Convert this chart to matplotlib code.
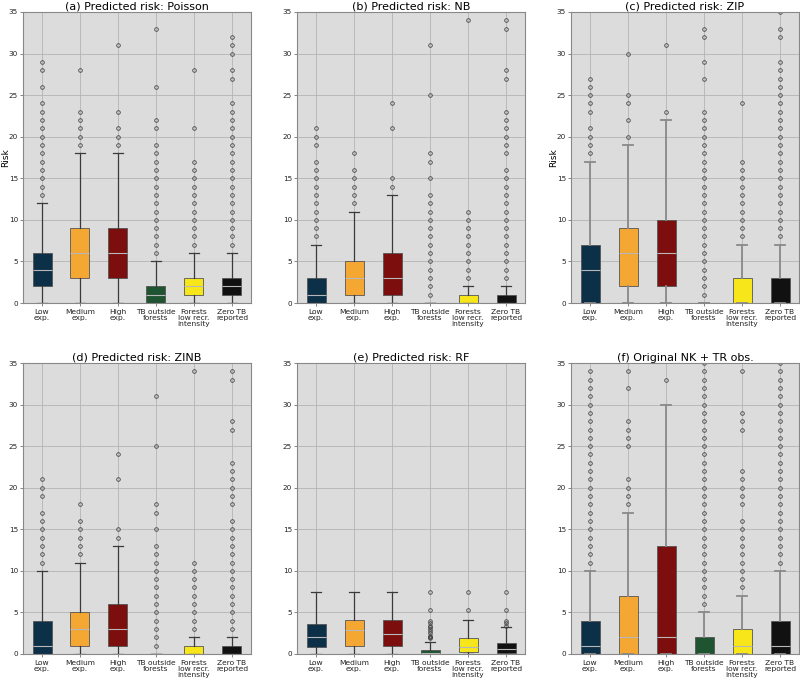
import matplotlib
matplotlib.use("Agg")
import matplotlib.pyplot as plt
import numpy as np

plt.rcParams['font.family'] = 'DejaVu Sans'

# categories
labels = ["Low\nexp.", "Medium\nexp.", "High\nexp.", "TB outside\nforests",
          "Forests\nlow recr.\nintensity", "Zero TB\nreported"]
colors = ["#0c3048", "#f4a732", "#7c0e0e", "#1e5430", "#f7e71a", "#111111"]

titles = ["(a) Predicted risk: Poisson", "(b) Predicted risk: NB", "(c) Predicted risk: ZIP",
          "(d) Predicted risk: ZINB", "(e) Predicted risk: RF", "(f) Original NK + TR obs."]

# box stats per panel: [whislo, q1, med, q3, whishi] for each category
stats_a = [[0, 2, 4, 6, 12], [0, 3, 6, 9, 18], [0, 3, 6, 9, 18],
           [0, 0, 1, 2, 5], [0, 1, 2, 3, 6], [0, 1, 2, 3, 6]]
stats_b = [[0, 0, 1, 3, 7], [0, 1, 3, 5, 11], [0, 1, 3, 6, 13],
           [0, 0, 0, 0, 0], [0, 0, 0, 1, 2], [0, 0, 0, 1, 2]]
stats_c = [[0, 0, 4, 7, 17], [0, 2, 6, 9, 19], [0, 2, 6, 10, 22],
           [0, 0, 0, 0, 0], [0, 0, 0, 3, 7], [0, 0, 0, 3, 7]]
stats_d = [[0, 0, 1, 4, 10], [0, 1, 3, 5, 11], [0, 1, 3, 6, 13],
           [0, 0, 0, 0, 0], [0, 0, 0, 1, 2], [0, 0, 0, 1, 2]]
stats_e = [[0, 0.8, 2.1, 3.6, 7.5], [0, 1.0, 2.9, 4.1, 7.5], [0, 1.0, 2.4, 4.1, 7.5],
           [0, 0.0, 0.1, 0.5, 1.4], [0, 0.25, 0.8, 1.95, 4.1], [0, 0.1, 0.55, 1.35, 3.2]]
stats_f = [[0, 0, 1, 4, 10], [0, 0, 2, 7, 17], [0, 0, 2, 13, 30],
           [0, 0, 0, 2, 5], [0, 0, 1, 3, 7], [0, 0, 1, 4, 10]]

# outliers per panel
fliers_a = [[13, 14, 15, 16, 17, 18, 19, 20, 21, 22, 23, 24, 26, 28, 29],
            [19, 20, 21, 22, 23, 28],
            [19, 20, 21, 23, 31],
            [6, 7, 8, 9, 10, 11, 12, 13, 14, 15, 16, 17, 18, 19, 21, 22, 26, 33],
            [7, 8, 9, 10, 11, 12, 13, 14, 15, 16, 17, 21, 28],
            [7, 8, 9, 10, 11, 12, 13, 14, 15, 16, 17, 18, 19, 20, 21, 22, 23, 24, 27, 28, 30, 31, 32]]
fliers_b = [[8, 9, 10, 11, 12, 13, 14, 15, 16, 17, 19, 20, 21],
            [12, 13, 14, 15, 16, 18],
            [14, 15, 21, 24],
            [1, 2, 3, 4, 5, 6, 7, 8, 9, 10, 11, 12, 13, 15, 17, 18, 25, 31],
            [3, 4, 5, 6, 7, 8, 9, 10, 11, 34],
            [3, 4, 5, 6, 7, 8, 9, 10, 11, 12, 13, 14, 15, 16, 18, 19, 20, 21, 22, 23, 27, 28, 33, 34]]
fliers_c = [[18, 19, 20, 21, 23, 24, 25, 26, 27],
            [20, 22, 24, 25, 30],
            [23, 31],
            [1, 2, 3, 4, 5, 6, 7, 8, 9, 10, 11, 12, 13, 14, 15, 16, 17, 18, 19, 20, 21, 22, 23, 27, 29, 32, 33],
            [8, 9, 10, 11, 12, 13, 14, 15, 16, 17, 24],
            [8, 9, 10, 11, 12, 13, 14, 15, 16, 17, 18, 19, 20, 21, 22, 23, 24, 25, 26, 27, 28, 29, 32, 33, 35]]
fliers_d = [[11, 12, 13, 14, 15, 16, 17, 19, 20, 21],
            [12, 13, 14, 15, 16, 18],
            [14, 15, 21, 24],
            [1, 2, 3, 4, 5, 6, 7, 8, 9, 10, 11, 12, 13, 15, 17, 18, 25, 31],
            [3, 4, 5, 6, 7, 8, 9, 10, 11, 34],
            [3, 4, 5, 6, 7, 8, 9, 10, 11, 12, 13, 14, 15, 16, 18, 19, 20, 21, 22, 23, 27, 28, 33, 34]]
fliers_e = [[], [], [],
            [1.9, 2.0, 2.1, 2.2, 2.5, 2.8, 3.0, 3.2, 3.4, 3.7, 4.0, 5.3, 7.5],
            [5.3, 7.5],
            [3.4, 3.7, 4.0, 5.3, 7.5]]
fliers_f = [[11, 12, 13, 14, 15, 16, 17, 18, 19, 20, 21, 22, 23, 24, 25, 26, 27, 28, 29, 30, 31, 32, 33, 34],
            [18, 19, 20, 21, 25, 26, 27, 28, 32, 34],
            [33],
            [6, 7, 8, 9, 10, 11, 12, 13, 14, 15, 16, 17, 18, 19, 20, 21, 22, 23, 24, 25, 26, 27, 28, 29, 30, 31, 32, 33, 34, 35],
            [8, 9, 10, 11, 12, 13, 14, 15, 16, 18, 19, 20, 21, 22, 27, 28, 29, 34],
            [11, 12, 13, 14, 15, 16, 17, 18, 19, 20, 21, 22, 23, 24, 25, 26, 27, 28, 29, 30, 31, 32, 33, 34, 35]]

panels = [(stats_a, fliers_a), (stats_b, fliers_b), (stats_c, fliers_c),
          (stats_d, fliers_d), (stats_e, fliers_e), (stats_f, fliers_f)]
show_ylabel = [True, False, True, False, False, False]
grey_whisk = [False, False, True, False, False, True]

fig = plt.figure(figsize=(8, 6.82), dpi=100)
lefts = [23 / 800, 297 / 800, 571 / 800]
bottoms = [1 - 303 / 682, 1 - 654 / 682]
w, h = 228 / 800, 291 / 682

for i, (st, fl) in enumerate(panels):
    ax = fig.add_axes([lefts[i % 3], bottoms[i // 3], w, h])
    ax.set_facecolor("#dcdcdc")
    bstats = []
    for s, f in zip(st, fl):
        bstats.append(dict(whislo=s[0], q1=s[1], med=s[2], q3=s[3], whishi=s[4], fliers=f))
    wc = "#8a8a8a" if grey_whisk[i] else "#3a3a3a"
    lw = 1.3 if grey_whisk[i] else 0.9
    bp = ax.bxp(bstats, patch_artist=True, widths=0.5,
                whiskerprops=dict(color=wc, lw=lw),
                capprops=dict(color=wc, lw=lw),
                medianprops=dict(color="#b8b8b8", lw=0.8),
                flierprops=dict(marker="o", markersize=2.6, markerfacecolor="none",
                                markeredgecolor="#444444", markeredgewidth=0.6))
    for patch, c in zip(bp["boxes"], colors):
        patch.set_facecolor(c)
        patch.set_edgecolor("#555555")
        patch.set_linewidth(0.6)
    ax.set_ylim(0, 35)
    ax.set_xlim(0.5, 6.5)
    ax.set_yticks(np.arange(0, 36, 5))
    ax.set_xticks(np.arange(1, 7))
    ax.set_xticklabels(labels, fontsize=5.4, color="#222222", linespacing=1.0)
    ax.tick_params(axis="y", labelsize=5.2, length=2, width=0.5, pad=1.5,
                   colors="#555555", labelcolor="#222222")
    ax.tick_params(axis="x", length=2.5, width=0.5, pad=2, colors="#555555", labelcolor="#222222")
    ax.grid(True, color="#b4b4b4", lw=0.6)
    ax.set_axisbelow(True)
    for sp in ax.spines.values():
        sp.set_color("#888888")
        sp.set_linewidth(0.8)
    ax.set_title(titles[i], fontsize=8, pad=1.5)
    if show_ylabel[i]:
        ax.set_ylabel("Risk", fontsize=6.5)
        ax.yaxis.set_label_coords(-0.055, 0.5)

fig.savefig("out.png", dpi=100)
